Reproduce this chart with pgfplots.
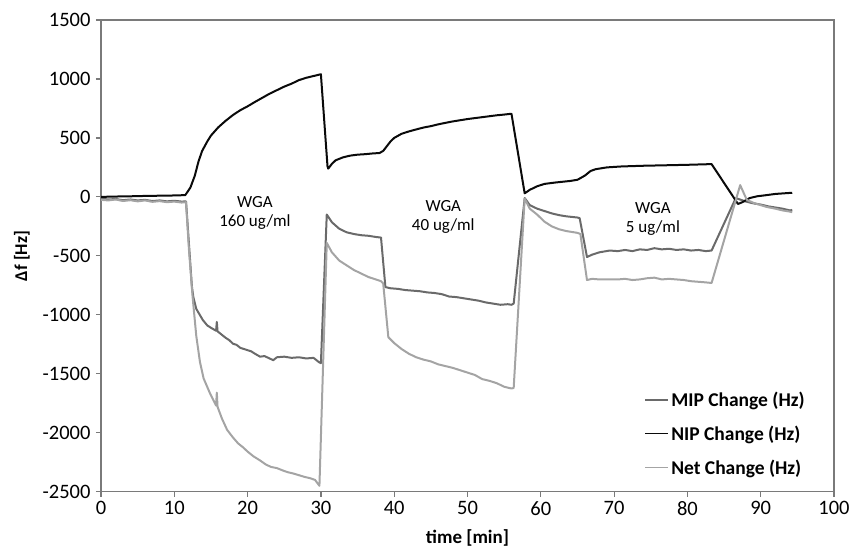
\documentclass[border=0pt]{standalone}
\usepackage{pgfplots}
\pgfplotsset{compat=1.18}
\usepackage{fontspec}
\setmainfont{Carlito}
\definecolor{mipc}{HTML}{6A6A6A}
\definecolor{nipc}{HTML}{0A0A0A}
\definecolor{netc}{HTML}{A4A4A4}
\definecolor{axc}{HTML}{7A7A7A}
\begin{document}
\begin{tikzpicture}
\useasboundingbox (0,0) rectangle (849bp,547bp);
\begin{axis}[
  at={(101bp,55.3bp)}, anchor=south west,
  scale only axis, width=733bp, height=471.7bp,
  xmin=0, xmax=100, ymin=-2500, ymax=1500,
  xtick={0,10,...,100}, ytick={-2500,-2000,...,1500},
  tick pos=left, tick align=outside, major tick length=5bp,
  axis line style={axc, line width=1.2bp},
  tick style={axc, line width=1.2bp},
  /pgf/number format/assume math mode=true,
  /pgf/number format/1000 sep={},
  tick label style={font=\fontsize{20.5bp}{22bp}\selectfont, text=black},
  yticklabel style={xshift=-2bp},
  xticklabel style={yshift=-1bp},
  xlabel={\textbf{time [min]}},
  ylabel={\textbf{Δf [Hz]}},
  xlabel style={at={(axis description cs:0.5,-0.109)}, anchor=base, font=\fontsize{19bp}{21bp}\selectfont},
  ylabel style={at={(axis description cs:-0.108,0.5)}, anchor=center, font=\fontsize{18bp}{20bp}\selectfont},
  legend cell align=left,
  legend style={at={(0.967,0.221)}, anchor=north east, draw=none, fill=none,
    font=\fontsize{19.5bp}{21bp}\selectfont\bfseries, row sep=14bp, column sep=0bp,
    /tikz/every odd column/.style={xshift=-4bp}},
  legend image code/.code={\draw[#1, line width=1.8bp] (0bp,0bp) -- (23bp,0bp);},
  every axis plot/.append style={line width=2bp, line join=round},
]
\addplot[mipc] coordinates {
(0,-15) (1,-22) (2,-18) (3,-28) (4,-22) (5,-30) (6,-25) (7,-35) (8,-30) (9,-38) (10,-33) (11,-40) (11.6,-38)
(12,-400) (12.4,-760) (12.6,-850) (13,-950) (13.9,-1045) (14.5,-1090) (15,-1110) (15.7,-1135) (15.8,-1060) (15.9,-1140)
(16.5,-1170) (17,-1195) (17.5,-1215) (18,-1245) (18.5,-1255) (19,-1280) (19.5,-1290) (20,-1300) (20.5,-1310) (21,-1330)
(21.7,-1355) (22.3,-1350) (23,-1370) (23.5,-1385) (24,-1360) (25,-1355) (26,-1365) (27,-1360) (28,-1370) (29,-1365)
(29.7,-1400) (30,-1410) (30.8,-150) (31.5,-215) (32.5,-270) (33.5,-300) (34.5,-315) (35.5,-325) (36.5,-330) (37.5,-340)
(38.2,-345) (38.8,-765) (39.5,-775) (40.5,-780) (41.5,-790) (42.5,-795) (43.5,-800) (44.5,-810) (45.5,-815) (46.5,-825)
(47.5,-845) (48.5,-850) (49.5,-860) (50.5,-870) (51.5,-880) (52.5,-895) (53.5,-905) (54.5,-915) (55.5,-910) (56,-915)
(56.3,-905) (57.8,-10) (58.5,-70) (59.5,-100) (60.5,-120) (61.5,-140) (62.5,-155) (63.5,-165) (65,-175) (65.3,-180)
(66.3,-510) (67,-490) (68,-470) (69.4,-455) (70.5,-460) (71.5,-450) (72.5,-460) (73.5,-445) (74.5,-450) (75.5,-435)
(76.5,-445) (77.5,-440) (78.5,-450) (79.5,-445) (80.5,-455) (81.5,-450) (82.5,-460) (83.3,-455) (86.6,-10) (87.3,-25)
(88,-40) (89,-55) (90,-65) (91,-80) (92,-90) (93,-100) (94,-115) (94.3,-110)
};
\addlegendentry{MIP Change (Hz)}
\addplot[nipc] coordinates {
(0,0) (2,3) (4,5) (6,8) (8,10) (10,12) (11.5,15) (12.2,80) (12.8,180) (13.3,300) (13.8,390) (14.5,470) (15,520) (16,590)
(17,645) (18,694) (19,735) (20,768) (21,805) (22,840) (23,875) (24,905) (25,935) (26,960) (27,990) (28,1010) (29,1025)
(30,1040) (30.9,260) (31,240) (31.5,280) (32,310) (33,335) (34,350) (35,358) (36,362) (37,368) (38,372) (38.5,390)
(39,430) (39.5,470) (40,500) (41,535) (42,555) (43,572) (44,588) (45,600) (46,615) (47,628) (48,640) (49,650) (50,660)
(51,668) (52,676) (53,684) (54,692) (55,698) (56,705) (57.8,30) (58.5,60) (59.5,90) (60.5,110) (62,122) (64,135)
(65,145) (66,180) (66.8,220) (67.5,235) (69,250) (71,258) (74,264) (77,268) (80,272) (83.3,278) (86.9,-60) (87.5,-45)
(88.5,-10) (89.5,5) (90.8,15) (92,25) (94.3,35)
};
\addlegendentry{NIP Change (Hz)}
\addplot[netc] coordinates {
(0,-25) (1,-30) (2,-22) (3,-35) (4,-28) (5,-38) (6,-30) (7,-42) (8,-36) (9,-45) (10,-40) (11,-48) (11.6,-45)
(12,-450) (12.5,-850) (13,-1180) (13.5,-1400) (14,-1540) (14.9,-1670) (15.7,-1770) (15.8,-1660) (15.9,-1780)
(16.5,-1880) (17.2,-1975) (18,-2040) (18.7,-2090) (19.4,-2125) (20,-2160) (20.8,-2200) (21.7,-2235) (22.5,-2270)
(23.2,-2290) (24,-2300) (24.8,-2320) (25.5,-2335) (26.2,-2345) (27,-2360) (27.8,-2375) (28.5,-2385) (29.2,-2400)
(29.8,-2450) (30.8,-390) (31.5,-470) (32.5,-540) (33.5,-580) (34.5,-620) (35.5,-650) (36.5,-680) (37.5,-700)
(38.2,-715) (38.5,-735) (39.2,-1190) (40,-1240) (41,-1290) (42,-1330) (43,-1360) (44,-1380) (45,-1395) (46,-1420)
(47,-1435) (48,-1450) (49,-1470) (50,-1490) (51,-1510) (52,-1545) (53,-1560) (54,-1580) (55,-1610) (56,-1625)
(56.3,-1620) (57.8,-15) (58.5,-100) (59.5,-150) (60.5,-210) (61.5,-250) (62.5,-275) (63.5,-290) (65,-305) (65.4,-315)
(66.3,-705) (67,-695) (68,-700) (69.4,-700) (70.5,-700) (71.5,-695) (72.5,-705) (73.5,-700) (74.5,-690) (75.5,-685)
(76.5,-700) (77.5,-695) (78.5,-700) (79.5,-705) (80.5,-715) (81.5,-720) (82.5,-725) (83.3,-730) (87.2,100) (88.1,-25)
(89,-50) (90,-70) (90.8,-85) (92,-100) (93,-115) (94,-125) (94.3,-130)
};
\addlegendentry{Net Change (Hz)}
\draw[axc, line width=1.2bp] (rel axis cs:0,1) -- (rel axis cs:1,1) -- (rel axis cs:1,0);
\node[align=center, font=\fontsize{17bp}{19bp}\selectfont] at (axis cs:21,-140) {WGA\\160 ug/ml};
\node[align=center, font=\fontsize{17bp}{19bp}\selectfont] at (axis cs:46.7,-170) {WGA\\40 ug/ml};
\node[align=center, font=\fontsize{17bp}{19bp}\selectfont] at (axis cs:75.3,-190) {WGA\\5 ug/ml};
\end{axis}
\end{tikzpicture}
\end{document}
